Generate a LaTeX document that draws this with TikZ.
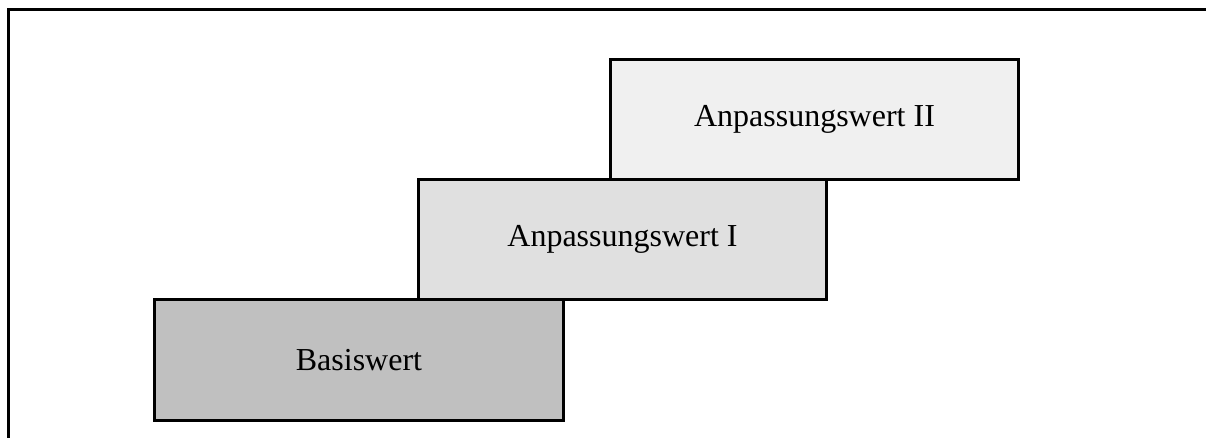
\documentclass[tikz,border=0pt]{standalone}
\usepackage{fontspec}
\setmainfont{Liberation Serif}
\begin{document}
\begin{tikzpicture}[x=1pt,y=-1pt,
  stepbox/.style={draw=black,line width=3pt,minimum width=408pt,minimum height=120pt,inner sep=0pt,font=\fontsize{32}{38}\selectfont,anchor=north west}]
\useasboundingbox (0,0) rectangle (1206,438);
\draw[line width=3pt] (8,438) coordinate (fb) -- (8,9.5) coordinate (fc) -- (1206,9.5) coordinate (fr);
\node[stepbox,fill={rgb,255:red,240;green,240;blue,240}] (a2) at (609,58) {Anpassungswert II};
\node[stepbox,fill={rgb,255:red,224;green,224;blue,224}] (a1) at (417,178) {Anpassungswert I};
\node[stepbox,fill={rgb,255:red,192;green,192;blue,192},minimum width=409pt,minimum height=121pt] (b) at (153,298) {Basiswert};
\end{tikzpicture}
\end{document}
